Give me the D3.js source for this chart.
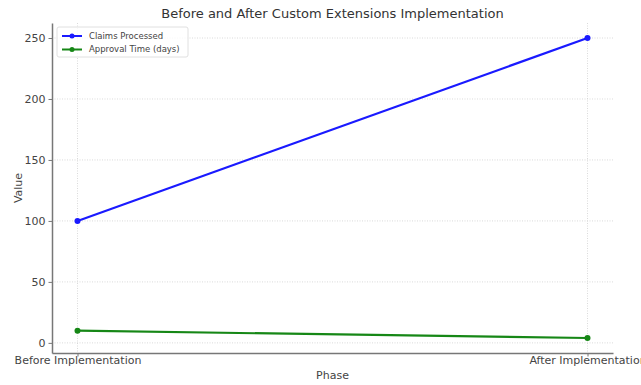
<!DOCTYPE html>
<html>
<head>
<meta charset="utf-8">
<script src="https://cdn.jsdelivr.net/npm/d3@7"></script>
<style>
  body { margin: 0; background: #fff; }
  text { font-family: "DejaVu Sans", sans-serif; }
</style>
</head>
<body>
<svg id="chart"></svg>
<script>
const phases = ['Before Implementation', 'After Implementation'];
const claimsProcessed = [100, 250];
const approvalTime = [10, 4];
const yTicks = [0, 50, 100, 150, 200, 250];

const series = [
    { name: 'Claims Processed', values: claimsProcessed, color: '#1a1aff' },
    { name: 'Approval Time (days)', values: approvalTime, color: '#168716' }
];

const width = 641, height = 385;
const margin = { top: 23, right: 28, bottom: 32, left: 52 };
const inner_width = width - margin.left - margin.right;
const inner_height = height - margin.top - margin.bottom;

const svg = d3.select('#chart')
    .attr('width', width)
    .attr('height', height);

const chart = svg.append('g')
    .attr('transform', `translate(${margin.left}, ${margin.top})`);

const xscale = d3.scalePoint()
    .domain(phases)
    .range([0, inner_width])
    .padding(0.05);

// matplotlib style 5% margins on the data range
const all = claimsProcessed.concat(approvalTime);
const ymin = d3.min(all), ymax = d3.max(all);
const pad = (ymax - ymin) * 0.05;
const yscale = d3.scaleLinear()
    .domain([ymin - pad, ymax + pad])
    .range([inner_height, 0]);

// grid
chart.append('g')
    .selectAll('line')
    .data(yTicks)
    .join('line')
    .attr('x1', 0).attr('x2', inner_width)
    .attr('y1', d => yscale(d)).attr('y2', d => yscale(d))
    .attr('stroke', '#d0d0d0')
    .attr('stroke-width', 0.8)
    .attr('stroke-dasharray', '1,1.5');

chart.append('g')
    .selectAll('line')
    .data(phases)
    .join('line')
    .attr('x1', d => xscale(d)).attr('x2', d => xscale(d))
    .attr('y1', 0).attr('y2', inner_height)
    .attr('stroke', '#d0d0d0')
    .attr('stroke-width', 0.8)
    .attr('stroke-dasharray', '1,1.5');

// axes
const xaxis = d3.axisBottom(xscale).tickSize(3.5).tickSizeOuter(0);
const yaxis = d3.axisLeft(yscale).tickValues(yTicks).tickSize(3.5).tickSizeOuter(0);

const xaxis_group = chart.append('g')
    .attr('transform', `translate(0, ${inner_height})`)
    .call(xaxis);
const yaxis_group = chart.append('g').call(yaxis);

[xaxis_group, yaxis_group].forEach(g => {
    g.select('.domain').attr('stroke', '#777').attr('stroke-width', 1.5);
    g.selectAll('.tick line').attr('stroke', '#777');
    g.selectAll('.tick text')
        .attr('fill', '#444')
        .style('font-size', '11px')
        .style('font-family', '"DejaVu Sans", sans-serif');
});
xaxis_group.selectAll('.tick text').attr('y', 3).attr('dy', '0.71em');

// lines
const line = d3.line()
    .x((d, i) => xscale(phases[i]))
    .y(d => yscale(d));

series.forEach(s => {
    chart.append('path')
        .datum(s.values)
        .attr('fill', 'none')
        .attr('stroke', s.color)
        .attr('stroke-width', 2.2)
        .attr('d', line);
    chart.selectAll(null)
        .data(s.values)
        .join('circle')
        .attr('cx', (d, i) => xscale(phases[i]))
        .attr('cy', d => yscale(d))
        .attr('r', 3)
        .attr('fill', s.color);
});

// title and labels
svg.append('text')
    .attr('x', margin.left + inner_width / 2)
    .attr('y', 18)
    .attr('text-anchor', 'middle')
    .attr('fill', '#333')
    .style('font-size', '13px')
    .text('Before and After Custom Extensions Implementation');

svg.append('text')
    .attr('x', margin.left + inner_width / 2)
    .attr('y', 379)
    .attr('text-anchor', 'middle')
    .attr('fill', '#444')
    .style('font-size', '11px')
    .text('Phase');

svg.append('text')
    .attr('transform', 'rotate(-90)')
    .attr('x', -(margin.top + inner_height / 2))
    .attr('y', 22)
    .attr('text-anchor', 'middle')
    .attr('fill', '#444')
    .style('font-size', '11px')
    .text('Value');

// legend
const legend = chart.append('g').attr('transform', 'translate(5, 4)');
legend.append('rect')
    .attr('width', 131).attr('height', 30)
    .attr('rx', 2)
    .attr('fill', '#fff')
    .attr('fill-opacity', 0.8)
    .attr('stroke', '#e0e0e0');

const items = legend.selectAll('g.item')
    .data(series)
    .join('g')
    .attr('class', 'item')
    .attr('transform', (d, i) => `translate(5, ${9 + i * 13.5})`);
items.append('line')
    .attr('x1', 0).attr('x2', 20)
    .attr('stroke', d => d.color)
    .attr('stroke-width', 2);
items.append('circle')
    .attr('cx', 10).attr('r', 2.5)
    .attr('fill', d => d.color);
items.append('text')
    .attr('x', 27).attr('dy', '0.35em')
    .attr('fill', '#444')
    .style('font-size', '8.5px')
    .text(d => d.name);
</script>
</body>
</html>
